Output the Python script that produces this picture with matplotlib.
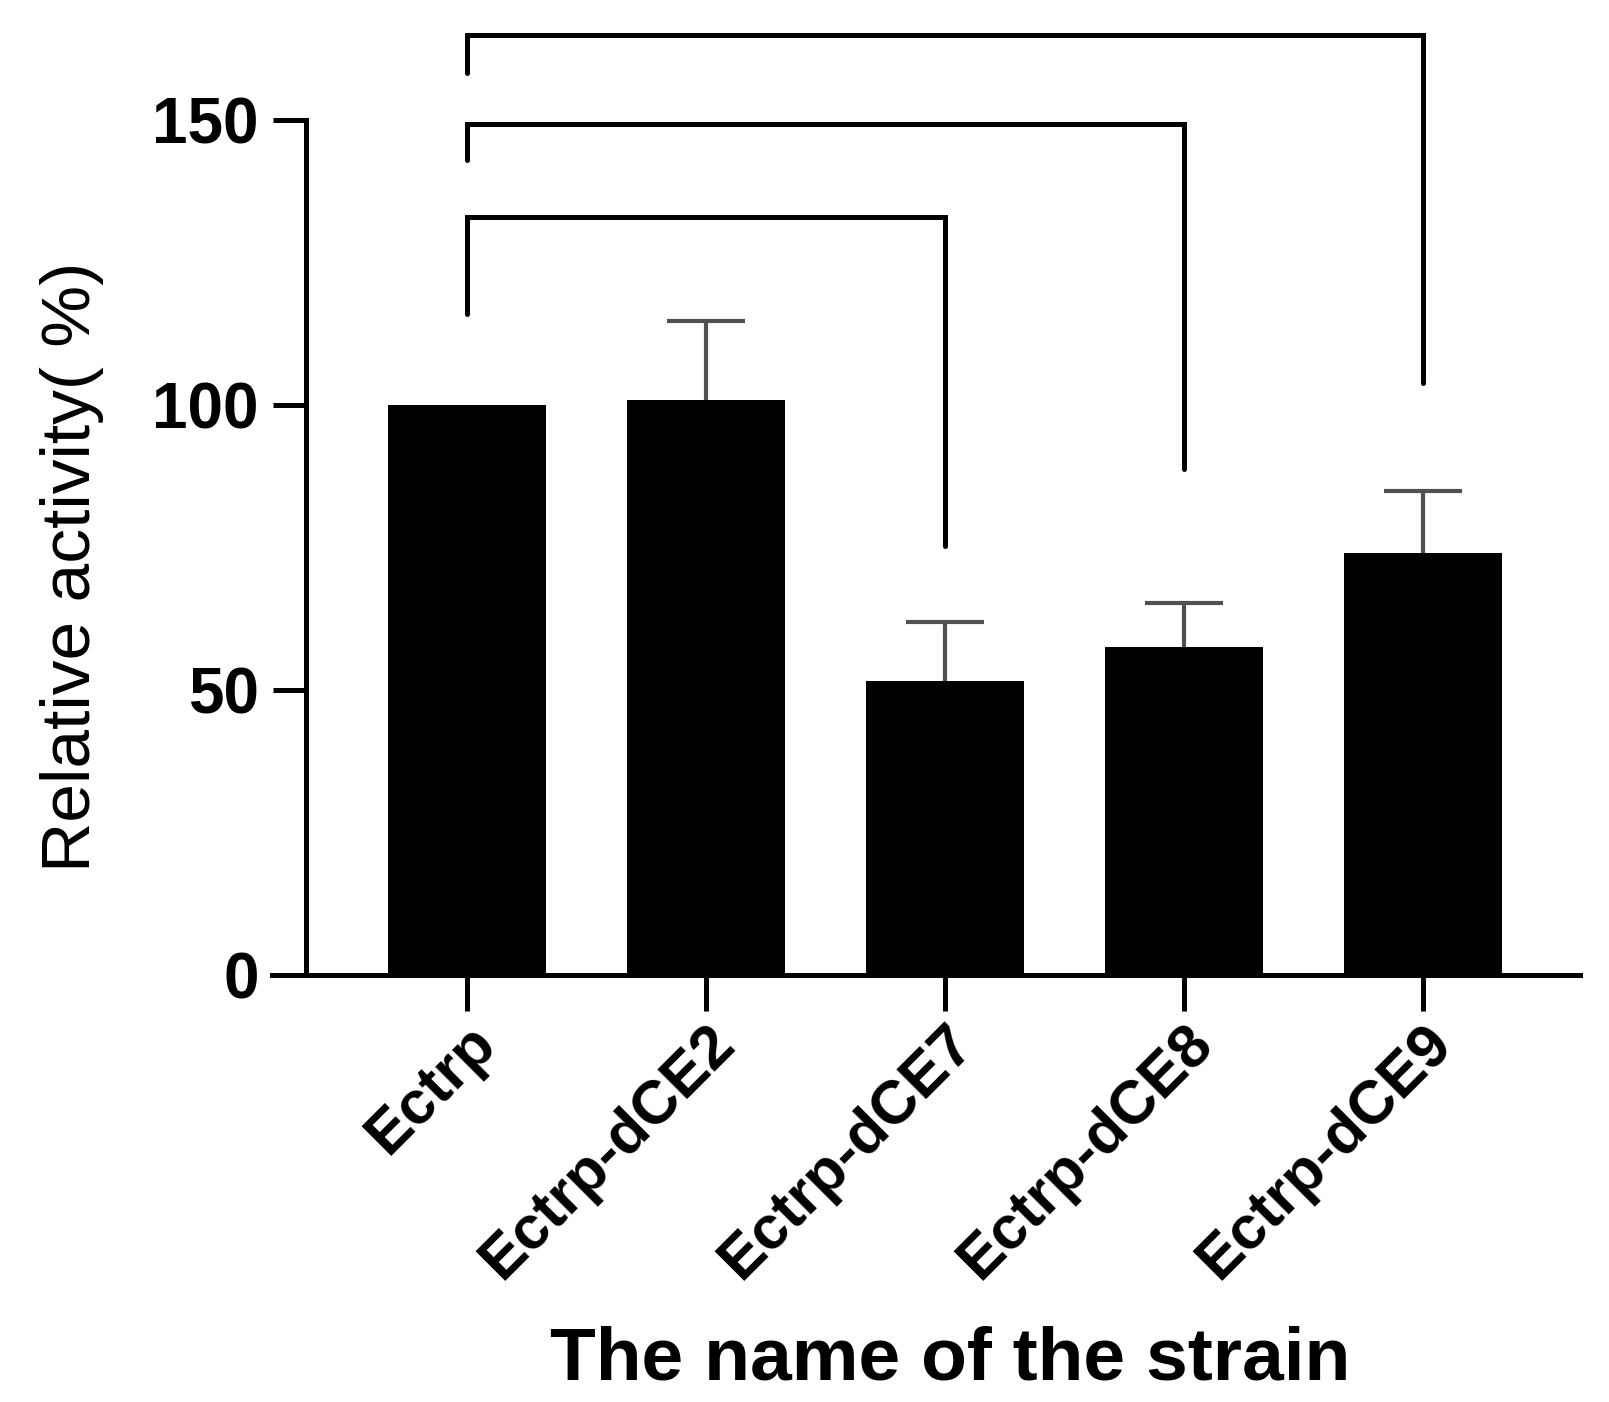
import matplotlib
matplotlib.use("Agg")
import matplotlib.pyplot as plt
import numpy as np

plt.rcParams["font.family"] = "sans-serif"
plt.rcParams["font.sans-serif"] = ["Liberation Sans", "DejaVu Sans"]

# data
strains = ["Ectrp", "Ectrp-dCE2", "Ectrp-dCE7", "Ectrp-dCE8", "Ectrp-dCE9"]
activity = [100, 100.9, 51.6, 57.6, 74.1]
sd_up = [0, 13.8, 10.4, 7.7, 10.8]

# comparison brackets: (from, to), bar height, left leg end, right leg end
pairs = [(0, 2), (0, 3), (0, 4)]
bracket_top = [133.0, 149.3, 165.0]
bracket_left = [116.0, 143.0, 158.3]
bracket_right = [75.2, 88.7, 103.8]

W, H = 1609, 1402
fig = plt.figure(figsize=(W / 100, H / 100), dpi=100)

ax_l, ax_r = 272, 1580
ax_b, ax_t = 975, 120
ax = fig.add_axes([ax_l / W, 1 - ax_b / H, (ax_r - ax_l) / W, (ax_b - ax_t) / H])

x = np.arange(len(strains))
ax.bar(x, activity, width=0.66, color="black", zorder=2)

# only the upper half of each error bar is shown
err = [(xi, yi, e) for xi, yi, e in zip(x, activity, sd_up) if e > 0]
ex = [e[0] for e in err]
ey = [e[1] for e in err]
eu = [e[2] for e in err]
_, caps, _ = ax.errorbar(ex, ey, yerr=[np.zeros(len(ex)), eu], fmt="none",
                         ecolor="#505050", elinewidth=3, capsize=28, capthick=3, zorder=1)
caps[0].set_visible(False)

for (i, j), top, yl, yr in zip(pairs, bracket_top, bracket_left, bracket_right):
    ax.plot([x[i], x[i], x[j], x[j]], [yl, top, top, yr], color="black",
            lw=3.6, solid_joinstyle="miter", solid_capstyle="round", clip_on=False)

spacing = 239
ax.set_xlim(-(467 - ax_l) / spacing, (ax_r - 467) / spacing)
ax.set_ylim(0, 150)
ax.set_yticks([0, 50, 100, 150])

for s in ["top", "right"]:
    ax.spines[s].set_visible(False)
ax.spines["left"].set_position(("axes", (306 - ax_l) / (ax_r - ax_l)))
ax.spines["left"].set_linewidth(3.6)
ax.spines["bottom"].set_linewidth(3.6)
ax.tick_params(axis="y", length=24, width=3.6, pad=10, labelsize=46)
ax.tick_params(axis="x", length=26, width=3.6, pad=2, labelsize=44)
for lab in ax.get_yticklabels():
    lab.set_fontweight("bold")

ax.set_xticks(x)
ax.set_xticklabels(strains, rotation=45, ha="right", va="top",
                   rotation_mode="anchor", fontweight="bold")

fig.text(72 / W, 1 - 567 / H, "Relative activity( %)", rotation=90,
         ha="center", va="center", fontsize=50)
fig.text(950 / W, 1 - 1360 / H, "The name of the strain", ha="center",
         va="center", fontsize=54, fontweight="bold")

fig.savefig("out.png", dpi=100)
